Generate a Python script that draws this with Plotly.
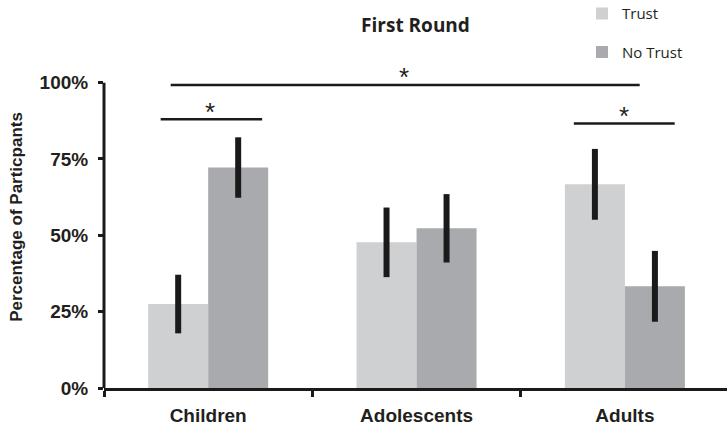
import plotly.graph_objects as go

categories = ["Children", "Adolescents", "Adults"]
trust = [27.5, 47.7, 66.7]
no_trust = [72.2, 52.3, 33.3]
trust_err = [9.6, 11.4, 11.6]
no_trust_err = [9.9, 11.2, 11.6]
y_tickvals = [0, 25, 50, 75, 100]
y_ticktext = ["0%", "25%", "50%", "75%", "100%"]

INK = "#231f20"
BAR_INK = "#1a1a1a"

fig = go.Figure()
fig.add_trace(go.Bar(
    x=categories, y=trust, name="Trust",
    marker=dict(color="#cfd0d2", line=dict(width=0)),
    error_y=dict(type="data", array=trust_err, visible=True,
                 thickness=6, width=0, color=BAR_INK),
    legendgroup="a",
))
fig.add_trace(go.Bar(
    x=categories, y=no_trust, name="No Trust",
    marker=dict(color="#a9aaad", line=dict(width=0)),
    error_y=dict(type="data", array=no_trust_err, visible=True,
                 thickness=6, width=0, color=BAR_INK),
    legendgroup="b",
))

# significance brackets
for x0, x1, y in [(-0.228, 0.259, 88.0), (-0.18, 2.071, 99.2), (1.755, 2.239, 86.6)]:
    fig.add_shape(type="line", xref="x", yref="y", x0=x0, x1=x1, y0=y, y1=y,
                  line=dict(color=BAR_INK, width=2.5))
for x, y in [(0.008, 90.3), (0.939, 101.8), (1.997, 89.0)]:
    fig.add_annotation(x=x, y=y, xref="x", yref="y", text="*", showarrow=False,
                       font=dict(family="Liberation Sans", size=26, color=INK),
                       xanchor="center", yanchor="middle")

# y-axis line only from 0% to 100%
fig.add_shape(type="line", xref="paper", yref="y", x0=0, x1=0, y0=0, y1=100,
              line=dict(color=BAR_INK, width=3))

fig.update_layout(
    width=727, height=427,
    margin=dict(l=104, r=0, t=46, b=39, autoexpand=False),
    paper_bgcolor="white", plot_bgcolor="white",
    barmode="group", bargap=0.424, bargroupgap=0,
    title=dict(text="First Round", x=0.5, xref="paper", xanchor="center",
               y=1 - 25 / 427, yref="container", yanchor="middle",
               font=dict(family="Open Sans", size=19, weight=700, color=INK)),
    legend=dict(x=(582 - 104) / 623, xanchor="left", y=1.1425, yanchor="top",
                orientation="v", traceorder="grouped", tracegroupgap=16,
                itemwidth=30,
                font=dict(family="Open Sans", size=15, color=INK),
                bgcolor="rgba(0,0,0,0)", borderwidth=0),
    showlegend=True,
    xaxis=dict(range=[-0.5, 2.49], showline=True, linecolor=BAR_INK, linewidth=3,
               automargin=False, ticklabelstandoff=8,
               ticks="outside", tickson="boundaries", ticklen=6, tickwidth=3,
               tickcolor=BAR_INK, showgrid=False, zeroline=False,
               tickfont=dict(family="Liberation Sans", size=19, weight="bold", color=INK)),
    yaxis=dict(range=[0, 112], showline=False, showgrid=False, zeroline=False,
               automargin=False, ticklabelstandoff=6,
               tickvals=y_tickvals, ticktext=y_ticktext,
               ticks="outside", ticklen=5, tickwidth=3, tickcolor=BAR_INK,
               tickfont=dict(family="Liberation Sans", size=19, weight="bold", color=INK),
               title=dict(text="Percentage of Particpants", standoff=12,
                          font=dict(family="Liberation Sans", size=17, weight="bold", color=INK))),
)

fig.write_html("out.html", config={"displayModeBar": False},
               post_script="document.body.style.margin='0';document.body.style.overflow='hidden';")
